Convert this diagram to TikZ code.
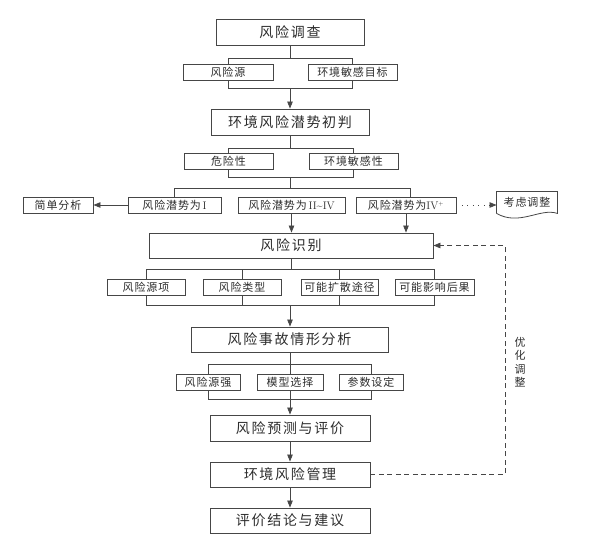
\documentclass[tikz,border=0pt]{standalone}
\usepackage{fontspec}
\newfontfamily\cjkmain[LetterSpace=12]{Noto Sans CJK SC}
\newfontfamily\cjksub[LetterSpace=8]{Noto Sans CJK SC}
\usetikzlibrary{arrows.meta,calc,backgrounds}
\definecolor{linegray}{RGB}{70,70,70}
\definecolor{textgray}{RGB}{45,45,45}
\tikzset{
  mainbox/.style={draw=linegray,line width=0.9pt,fill=white,minimum height=26pt,inner sep=0pt,text=textgray,font=\cjkmain\fontsize{14}{16}\selectfont},
  subbox/.style={draw=linegray,line width=0.9pt,fill=white,minimum height=16pt,inner sep=0pt,text=textgray,font=\cjksub\fontsize{11}{13}\selectfont},
  link/.style={draw=linegray,line width=0.8pt},
  flow/.style={link,-{Triangle[length=7pt,width=5.5pt]}},
  feedback/.style={flow,dash pattern=on 5pt off 3.5pt},
  hint/.style={flow,dash pattern=on 1pt off 4.5pt}
}
\newcommand{\rmn}[1]{{\normalfont #1}}

\begin{document}
\begin{tikzpicture}[x=1pt,y=-1pt]
  \useasboundingbox (0,0) rectangle (590,544);
  \node[mainbox,minimum width=148pt] (survey) at (290,32) {风险调查};
  \node[subbox,minimum width=90pt] (src) at (228,72) {风险源}; \node[subbox,minimum width=89pt] (tgt) at (352.5,72) {环境敏感目标};
  \node[mainbox,minimum width=158pt] (prelim) at (290,122) {环境风险潜势初判};
  \node[subbox,minimum width=89pt] (hazard) at (228.5,161) {危险性}; \node[subbox,minimum width=89pt] (sens) at (353.5,161) {环境敏感性};
  \node[subbox,minimum width=93pt] (lvla) at (174.5,205) {风险潜势为\rmn{\,I}};
  \node[subbox,minimum width=107pt] (lvlb) at (291.5,205) {风险潜势为\rmn{\,II\textasciitilde IV}};
  \node[subbox,minimum width=100pt] (lvlc) at (406,205) {风险潜势为\rmn{IV$^{\scriptscriptstyle +}$}};
  \node[subbox,minimum width=70pt] (simple) at (58,205) {简单分析};
  \node[subbox,draw=none,fill=none,minimum width=60pt,minimum height=21pt] (adjust) at (527,202.5) {考虑调整};
  \node[mainbox,minimum width=284pt,minimum height=25pt] (ident) at (291,245.5) {风险识别};
  \node[subbox,minimum width=78pt] (itema) at (146,287) {风险源项}; \node[subbox,minimum width=78pt] (itemb) at (242,287) {风险类型};
  \node[subbox,minimum width=77pt] (itemc) at (339.5,287) {可能扩散途径}; \node[subbox,minimum width=79pt] (itemd) at (434.5,287) {可能影响后果};
  \node[mainbox,minimum width=197pt,minimum height=25pt] (scen) at (289.5,339.5) {风险事故情形分析};
  \node[subbox,minimum width=64pt] (strength) at (208,382) {风险源强}; \node[subbox,minimum width=66pt] (model) at (290,382) {模型选择};
  \node[subbox,minimum width=64pt] (param) at (371,382) {参数设定};
  \node[mainbox,minimum width=160pt] (predict) at (290,428) {风险预测与评价};
  \node[mainbox,minimum width=160pt,minimum height=25pt] (manage) at (290,474.5) {环境风险管理};
  \node[mainbox,minimum width=160pt,minimum height=25pt] (concl) at (290,520.5) {评价结论与建议};
  \node[text=textgray,align=center,inner sep=0pt,font=\cjksub\fontsize{11}{13.5}\selectfont] (optnote) at (520,362) {优\\化\\调\\整};
  \coordinate (ba) at (290,58); \coordinate (bb) at (290,88); \coordinate (bc) at (290,148); \coordinate (bd) at (290,177);
  \coordinate (bj) at (290,188); \coordinate (be) at (291,269); \coordinate (bf) at (290,305);
  \coordinate (bg) at (290,364); \coordinate (bh) at (290,399); \coordinate (fb) at (505,474.5);
  \begin{scope}[on background layer]
    \draw[link] (src.center |- ba) rectangle (tgt.center |- bb);
    \draw[link] (hazard.center |- bc) rectangle (sens.center |- bd);
    \draw[link] (itema.center |- be) rectangle (itemd.center |- bf);
    \draw[link] (itemb.center |- be) -- (itemb.center |- bf); \draw[link] (itemc.center |- be) -- (itemc.center |- bf);
    \draw[link] (strength.center |- bg) rectangle (param.center |- bh); \draw[link] (bg) -- (bh);
  \end{scope}
  \draw[link] (survey) -- (ba); \draw[flow] (bb) -- (prelim);
  \draw[link] (prelim) -- (bc); \draw[link] (bd) -- (bj);
  \draw[link] (lvla.north) -- (lvla.north |- bj) -- ($(lvlc.north |- bj)+(4,0)$) -- ($(lvlc.north)+(4,0)$);
  \draw[flow] (lvla.west) -- (simple.east);
  \draw[hint] (lvlc.east) -- (lvlc.east -| adjust.west);
  \draw[link] (adjust.south west) -- (adjust.north west) -- (adjust.north east) -- (adjust.south east)
    .. controls ($(adjust.south east)+(-17,-6)$) and ($(adjust.south west)+(23,13)$) .. (adjust.south west);
  \draw[flow] (lvlb.south) -- (lvlb.south |- ident.north); \draw[flow] (lvlc.south) -- (lvlc.south |- ident.north);
  \draw[link] (ident.south |- ident.south) -- (be);
  \draw[flow] (bf) -- (bf |- scen.north);
  \draw[link] (scen.south -| bg) -- (bg);
  \draw[flow] (bh) -- (predict); \draw[flow] (predict) -- (manage); \draw[flow] (manage) -- (concl);
  \draw[feedback] (manage.east) -- (manage.east -| fb) -- (fb |- ident.east) -- (ident.east);
\end{tikzpicture}
\end{document}
